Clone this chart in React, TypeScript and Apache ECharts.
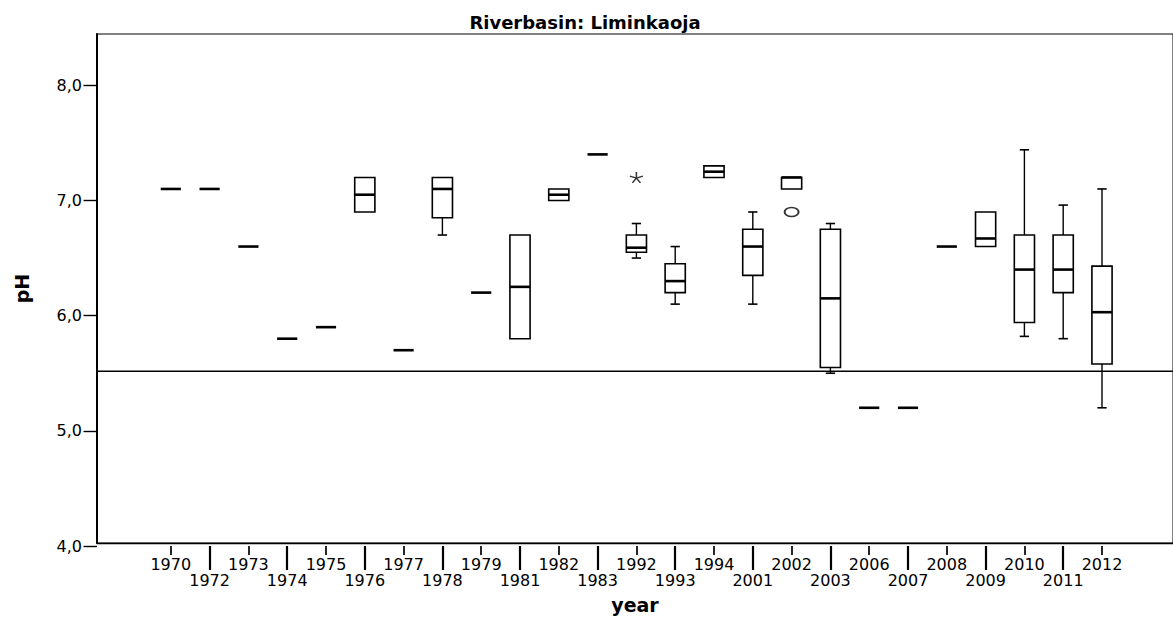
import React, { useEffect, useRef } from 'react';
import * as echarts from 'echarts';

const years = ['1970', '1972', '1973', '1974', '1975', '1976', '1977', '1978', '1979', '1981', '1982', '1983', '1992', '1993', '1994', '2001', '2002', '2003', '2006', '2007', '2008', '2009', '2010', '2011', '2012'];
const minVals = [7.1, 7.1, 6.6, 5.8, 5.9, 6.9, 5.7, 6.7, 6.2, 5.8, 7.0, 7.4, 6.5, 6.1, 7.2, 6.1, 7.1, 5.5, 5.2, 5.2, 6.6, 6.6, 5.82, 5.8, 5.2];
const q1Vals = [7.1, 7.1, 6.6, 5.8, 5.9, 6.9, 5.7, 6.85, 6.2, 5.8, 7.0, 7.4, 6.55, 6.2, 7.2, 6.35, 7.1, 5.55, 5.2, 5.2, 6.6, 6.6, 5.94, 6.2, 5.58];
const medianVals = [7.1, 7.1, 6.6, 5.8, 5.9, 7.05, 5.7, 7.1, 6.2, 6.25, 7.05, 7.4, 6.59, 6.3, 7.25, 6.6, 7.2, 6.15, 5.2, 5.2, 6.6, 6.67, 6.4, 6.4, 6.03];
const q3Vals = [7.1, 7.1, 6.6, 5.8, 5.9, 7.2, 5.7, 7.2, 6.2, 6.7, 7.1, 7.4, 6.7, 6.45, 7.3, 6.75, 7.2, 6.75, 5.2, 5.2, 6.6, 6.9, 6.7, 6.7, 6.43];
const maxVals = [7.1, 7.1, 6.6, 5.8, 5.9, 7.2, 5.7, 7.2, 6.2, 6.7, 7.1, 7.4, 6.8, 6.6, 7.3, 6.9, 7.2, 6.8, 5.2, 5.2, 6.6, 6.9, 7.44, 6.96, 7.1];

const extremeYears = ['1992'];
const extremeValues = [7.2];
const outlierYears = ['2002'];
const outlierValues = [6.9];

const referenceLine = 5.5;
const yMin = 4;
const yMax = 8;
const frameYMax = 8.447;

const FONT = '"DejaVu Sans", Arial, sans-serif';

export default function App() {
  const ref = useRef<HTMLDivElement>(null);

  useEffect(() => {
    if (!ref.current) return;
    const chart = echarts.init(ref.current, null, { renderer: 'svg' });

    const boxData = years.map((_, i) => [i, minVals[i], q1Vals[i], medianVals[i], q3Vals[i], maxVals[i]]);

    const renderBox = (params: any, api: any) => {
      const idx = api.value(0);
      const vMin = api.value(1);
      const vQ1 = api.value(2);
      const vMed = api.value(3);
      const vQ3 = api.value(4);
      const vMax = api.value(5);
      const band = api.size([1, 0])[0];
      const w = band * 0.52;
      const capW = band * 0.24;
      const cx = api.coord([idx, vMed])[0];
      const yMinP = api.coord([idx, vMin])[1];
      const yQ1 = api.coord([idx, vQ1])[1];
      const yMed = api.coord([idx, vMed])[1];
      const yQ3 = api.coord([idx, vQ3])[1];
      const yMaxP = api.coord([idx, vMax])[1];
      const children: any[] = [];
      const stroke = '#000';
      if (vMax > vQ3) {
        children.push({ type: 'line', shape: { x1: cx, y1: yQ3, x2: cx, y2: yMaxP }, style: { stroke, lineWidth: 1.4 } });
        children.push({ type: 'line', shape: { x1: cx - capW / 2, y1: yMaxP, x2: cx + capW / 2, y2: yMaxP }, style: { stroke, lineWidth: 1.6 } });
      }
      if (vMin < vQ1) {
        children.push({ type: 'line', shape: { x1: cx, y1: yQ1, x2: cx, y2: yMinP }, style: { stroke, lineWidth: 1.4 } });
        children.push({ type: 'line', shape: { x1: cx - capW / 2, y1: yMinP, x2: cx + capW / 2, y2: yMinP }, style: { stroke, lineWidth: 1.6 } });
      }
      if (vQ3 > vQ1) {
        children.push({ type: 'rect', shape: { x: cx - w / 2, y: yQ3, width: w, height: yQ1 - yQ3 }, style: { fill: '#fff', stroke, lineWidth: 1.6 } });
      }
      children.push({ type: 'line', shape: { x1: cx - w / 2, y1: yMed, x2: cx + w / 2, y2: yMed }, style: { stroke, lineWidth: 2.6 } });
      return { type: 'group', children };
    };

    const labelStyle = { fontFamily: FONT, fontSize: 16, color: '#000' };

    chart.setOption({
      animation: false,
      backgroundColor: '#fff',
      title: {
        text: 'Riverbasin: Liminkaoja',
        left: 580,
        top: 8,
        textAlign: 'center',
        textStyle: { fontFamily: FONT, fontSize: 18, fontWeight: 'bold', color: '#000' },
      },
      grid: [
        { left: 97, right: -2, top: 34, bottom: 73, show: true, borderColor: '#000', borderWidth: 1, backgroundColor: 'transparent' },
        { left: 151.4, right: 51.6, top: 85.3, bottom: 73 },
      ],
      xAxis: [
        {
          type: 'value', gridIndex: 0, min: 0, max: 1,
          axisLine: { show: true, onZero: false, lineStyle: { color: '#000', width: 1.3 } },
          axisTick: { show: false }, axisLabel: { show: false }, splitLine: { show: false },
          name: 'year', nameLocation: 'middle', nameGap: 52,
          nameTextStyle: { fontFamily: FONT, fontSize: 19, fontWeight: 'bold', color: '#000' },
        },
        {
          type: 'category', gridIndex: 1, data: years, position: 'bottom', boundaryGap: true,
          axisLine: { show: false },
          axisTick: { show: true, alignWithLabel: true, length: 9, interval: (i: number) => i % 2 === 0, lineStyle: { color: '#000', width: 1.7 } },
          axisLabel: { show: true, interval: (i: number) => i % 2 === 0, margin: 10, ...labelStyle },
          splitLine: { show: false },
        },
        {
          type: 'category', gridIndex: 1, data: years, position: 'bottom', boundaryGap: true,
          axisLine: { show: false },
          axisTick: { show: true, alignWithLabel: true, length: 24, interval: (i: number) => i % 2 === 1, lineStyle: { color: '#000', width: 2.2 } },
          axisLabel: { show: true, interval: (i: number) => i % 2 === 1, margin: 26, ...labelStyle },
          splitLine: { show: false },
        },
      ],
      yAxis: [
        {
          type: 'value', gridIndex: 0, min: yMin, max: frameYMax,
          axisLine: { show: true, lineStyle: { color: '#000', width: 2 } },
          axisTick: { show: false }, axisLabel: { show: false }, splitLine: { show: false },
          name: 'pH', nameLocation: 'middle', nameGap: 66,
          nameTextStyle: { fontFamily: FONT, fontSize: 19, fontWeight: 'bold', color: '#000' },
        },
        {
          type: 'value', gridIndex: 1, min: yMin, max: yMax, interval: 1, position: 'left', offset: 54.4,
          axisLine: { show: false },
          axisTick: { show: true, inside: false, length: 13.5, lineStyle: { color: '#000', width: 1.4 } },
          axisLabel: {
            show: true, margin: 15, fontFamily: FONT, fontSize: 16, color: '#000',
            formatter: (v: number) => v.toFixed(1).replace('.', ','),
          },
          splitLine: { show: false },
        },
      ],
      series: [
        {
          type: 'line', xAxisIndex: 0, yAxisIndex: 0,
          data: [[0, referenceLine], [1, referenceLine]],
          symbol: 'none', lineStyle: { color: '#000', width: 1.4 }, silent: true, z: 1,
        },
        {
          type: 'custom', xAxisIndex: 1, yAxisIndex: 1,
          data: boxData,
          encode: { x: 0, y: [1, 2, 3, 4, 5] },
          renderItem: renderBox,
          clip: false,
          z: 3,
        },
        {
          type: 'scatter', xAxisIndex: 1, yAxisIndex: 1,
          data: extremeYears.map((y, i) => [y, extremeValues[i]]),
          symbol: 'path://M0 0L0 -1M0 0L0.951 -0.309M0 0L0.588 0.809M0 0L-0.588 0.809M0 0L-0.951 -0.309',
          symbolSize: [13, 11],
          itemStyle: { color: 'transparent', borderColor: '#000', borderWidth: 1.4 },
          z: 4,
        },
        {
          type: 'scatter', xAxisIndex: 1, yAxisIndex: 1,
          data: outlierYears.map((y, i) => [y, outlierValues[i]]),
          symbol: 'path://M-1 0A1 1 0 1 0 1 0A1 1 0 1 0 -1 0Z',
          symbolSize: [14, 9],
          itemStyle: { color: 'transparent', borderColor: '#000', borderWidth: 1.6 },
          z: 4,
        },
      ],
    });

    return () => chart.dispose();
  }, []);

  return <div ref={ref} style={{ position: 'fixed', left: 0, top: 0, width: 1173, height: 619 }} />;
}
